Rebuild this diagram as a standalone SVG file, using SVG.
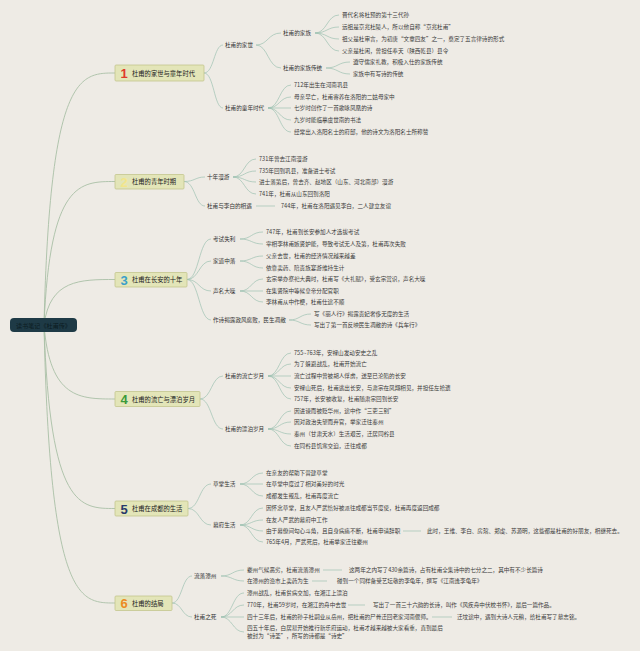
<svg xmlns="http://www.w3.org/2000/svg" width="640" height="651" viewBox="0 0 640 651">
<style>
.bg{fill:#eeebe5}
.c path{fill:none;stroke:#9dc2b2;stroke-width:0.7}
.c path.r{stroke:#a9bfa6;stroke-width:0.9}
text{font-family:"Noto Sans CJK SC","Noto Sans",sans-serif;dominant-baseline:central}
.t{font-size:5.6px;fill:#3a3a3a}
.s{font-size:5.6px;fill:#333}
.bx{fill:#e3e5b8;stroke:#c3c58e;stroke-width:0.8}
.bt{font-size:6.3px;fill:#222}
.n{font-family:"Liberation Sans",Arial,sans-serif;font-weight:bold;font-size:13px}
</style>
<rect class="bg" x="0" y="0" width="640" height="651"/>
<g id="connectors" class="c">
<path class="r" d="M44,325 C50,73 80,73 115,73"/>
<path class="r" d="M44,325 C50,181.5 80,181.5 115,181.5"/>
<path class="r" d="M44,325 C50,279.5 80,279.5 115,279.5"/>
<path class="r" d="M44,325 C50,399 80,399 115,399"/>
<path class="r" d="M44,325 C50,508.5 80,508.5 115,508.5"/>
<path class="r" d="M44,325 C50,603 80,603 115,603"/>
<path d="M204,73 C214,73 214,45 223,45"/>
<path d="M204,73 C214,73 214,108 223,108"/>
<path d="M256,45 C268,45 268,33 281,33"/>
<path d="M256,45 C268,45 268,68 281,68"/>
<path d="M315,33 C327,33 327,15 339,15"/>
<path d="M315,33 C327,33 327,27 339,27"/>
<path d="M315,33 C327,33 327,39 339,39"/>
<path d="M315,33 C327,33 327,51 339,51"/>
<path d="M326,68 C338,68 338,62 350,62"/>
<path d="M326,68 C338,68 338,74 350,74"/>
<path d="M268,108 C279.5,108 279.5,85 291,85"/>
<path d="M268,108 C279.5,108 279.5,97 291,97"/>
<path d="M268,108 L291,108"/>
<path d="M268,108 C279.5,108 279.5,120 291,120"/>
<path d="M268,108 C279.5,108 279.5,132 291,132"/>
<path d="M184,181.5 C195,181.5 195,177 205,177"/>
<path d="M184,181.5 C195,181.5 195,206 205,206"/>
<path d="M233,177 C244.5,177 244.5,159 256,159"/>
<path d="M233,177 C244.5,177 244.5,171 256,171"/>
<path d="M233,177 C244.5,177 244.5,182 256,182"/>
<path d="M233,177 C244.5,177 244.5,194 256,194"/>
<path d="M256,206 L275,206"/>
<path d="M187,279.5 C199,279.5 199,239 211,239"/>
<path d="M187,279.5 C199,279.5 199,261 211,261"/>
<path d="M187,279.5 C199,279.5 199,291 211,291"/>
<path d="M187,279.5 C199,279.5 199,320 211,320"/>
<path d="M240,239 C251.5,239 251.5,232 263,232"/>
<path d="M240,239 C251.5,239 251.5,244 263,244"/>
<path d="M240,261 C251.5,261 251.5,256 263,256"/>
<path d="M240,261 C251.5,261 251.5,268 263,268"/>
<path d="M240,291 C251.5,291 251.5,279 263,279"/>
<path d="M240,291 L263,291"/>
<path d="M240,291 C251.5,291 251.5,302 263,302"/>
<path d="M289,320 C300,320 300,314 311,314"/>
<path d="M289,320 C300,320 300,325 311,325"/>
<path d="M200,399 C211.5,399 211.5,376 223,376"/>
<path d="M200,399 C211.5,399 211.5,429 223,429"/>
<path d="M268,376 C279.5,376 279.5,353 291,353"/>
<path d="M268,376 C279.5,376 279.5,364 291,364"/>
<path d="M268,376 L291,376"/>
<path d="M268,376 C279.5,376 279.5,388 291,388"/>
<path d="M268,376 C279.5,376 279.5,399 291,399"/>
<path d="M268,429 C279.5,429 279.5,411 291,411"/>
<path d="M268,429 C279.5,429 279.5,422 291,422"/>
<path d="M268,429 C279.5,429 279.5,434 291,434"/>
<path d="M268,429 C279.5,429 279.5,446 291,446"/>
<path d="M188,508.5 C199.5,508.5 199.5,484 211,484"/>
<path d="M188,508.5 C199.5,508.5 199.5,525 211,525"/>
<path d="M240,484 C251.5,484 251.5,473 263,473"/>
<path d="M240,484 L263,484"/>
<path d="M240,484 C251.5,484 251.5,496 263,496"/>
<path d="M240,525 C251.5,525 251.5,508 263,508"/>
<path d="M240,525 C251.5,525 251.5,520 263,520"/>
<path d="M240,525 C251.5,525 251.5,531 263,531"/>
<path d="M240,525 C251.5,525 251.5,542 263,542"/>
<path d="M403,531 L421,531"/>
<path d="M172,603 C182,603 182,576 192,576"/>
<path d="M172,603 C182,603 182,617 192,617"/>
<path d="M221,576 C232.5,576 232.5,570 244,570"/>
<path d="M221,576 C232.5,576 232.5,581 244,581"/>
<path d="M221,617 C232.5,617 232.5,593 244,593"/>
<path d="M221,617 C232.5,617 232.5,605 244,605"/>
<path d="M221,617 L244,617"/>
<path d="M221,617 C232.5,617 232.5,632 244,632"/>
<path d="M323,570 L342,570"/>
<path d="M312,581 L327,581"/>
<path d="M348,605 L365,605"/>
<path d="M432,617 L452,617"/>
</g>
<g id="root">
<rect x="10" y="318" width="67" height="14" rx="4" fill="#1e3a46"/>
<text x="43.5" y="325" text-anchor="middle" font-size="6.1" fill="#0c1c22">读书笔记《杜甫传》</text>
</g>
<g id="b1">
<rect class="bx" x="115" y="65" width="89" height="16" rx="1"/>
<text class="n" x="124" y="73.5" text-anchor="middle" fill="#e0392b">1</text>
<text class="bt" x="132" y="73">杜甫的家世与童年时代</text>
</g>
<g id="b2">
<rect class="bx" x="115" y="174.5" width="69" height="14.5" rx="1"/>
<text class="n" x="124" y="182" text-anchor="middle" fill="#f2e58a">2</text>
<text class="bt" x="132" y="181.5">杜甫的青年时期</text>
</g>
<g id="b3">
<rect class="bx" x="115" y="272.5" width="72" height="14.5" rx="1"/>
<text class="n" x="124" y="280" text-anchor="middle" fill="#3a9fc9">3</text>
<text class="bt" x="132" y="279.5">杜甫在长安的十年</text>
</g>
<g id="b4">
<rect class="bx" x="115" y="391.5" width="85" height="15" rx="1"/>
<text class="n" x="124" y="399.5" text-anchor="middle" fill="#3b9a3a">4</text>
<text class="bt" x="132" y="399">杜甫的流亡与漂泊岁月</text>
</g>
<g id="b5">
<rect class="bx" x="115" y="501" width="73" height="15" rx="1"/>
<text class="n" x="124" y="509" text-anchor="middle" fill="#27396b">5</text>
<text class="bt" x="132" y="508.5">杜甫在成都的生活</text>
</g>
<g id="b6">
<rect class="bx" x="115" y="596" width="57" height="14.5" rx="1"/>
<text class="n" x="124" y="603.5" text-anchor="middle" fill="#ec8a22">6</text>
<text class="bt" x="132" y="603">杜甫的结局</text>
</g>
<g id="s1">
<text class="s" x="225" y="45">杜甫的家世</text>
<text class="s" x="283" y="33">杜甫的家族</text>
<text class="t" x="342" y="15">晋代名将杜预的第十三代孙</text>
<text class="t" x="342" y="27">远祖是京兆杜陵人，所以他自称“京兆杜甫”</text>
<text class="t" x="342" y="39">祖父是杜审言，为初唐“文章四友”之一，奠定了五言律诗的形式</text>
<text class="t" x="342" y="51">父亲是杜闲，曾担任奉天（陕西乾县）县令</text>
<text class="s" x="283" y="68">杜甫的家族传统</text>
<text class="t" x="353" y="62">遵守儒家礼教，积极入仕的家族传统</text>
<text class="t" x="353" y="74">家族中有写诗的传统</text>
<text class="s" x="225" y="108">杜甫的童年时代</text>
<text class="t" x="294" y="85">712年出生在河南巩县</text>
<text class="t" x="294" y="97">母亲早亡，杜甫寄养在洛阳的二姑母家中</text>
<text class="t" x="294" y="108">七岁时创作了一首歌咏凤凰的诗</text>
<text class="t" x="294" y="120">九岁时能临摹虞世南的书法</text>
<text class="t" x="294" y="132">经常出入洛阳名士的府邸，他的诗文为洛阳名士所称赞</text>
</g>
<g id="s2">
<text class="s" x="207" y="177">十年漫游</text>
<text class="t" x="259" y="159">731年曾去江南漫游</text>
<text class="t" x="259" y="171">735年回到巩县，准备进士考试</text>
<text class="t" x="259" y="182">进士落第后，曾去齐、赵地区（山东、河北南部）漫游</text>
<text class="t" x="259" y="194">741年，杜甫从山东回到洛阳</text>
<text class="s" x="207" y="206">杜甫与李白的相遇</text>
<text class="t" x="281" y="206">744年，杜甫在洛阳遇见李白，二人建立友谊</text>
</g>
<g id="s3">
<text class="s" x="213" y="239">考试失利</text>
<text class="t" x="266" y="232">747年，杜甫到长安参加人才选拔考试</text>
<text class="t" x="266" y="244">宰相李林甫嫉贤妒能，导致考试无人及第，杜甫再次失败</text>
<text class="s" x="213" y="261">家道中落</text>
<text class="t" x="266" y="256">父亲去世，杜甫的经济情况越来越差</text>
<text class="t" x="266" y="268">依靠卖药、陪贵族宴游维持生计</text>
<text class="s" x="213" y="291">声名大噪</text>
<text class="t" x="266" y="279">玄宗举办祭祀大典时，杜甫写《大礼赋》，受玄宗赏识，声名大噪</text>
<text class="t" x="266" y="291">在集贤院中等候皇帝分配官职</text>
<text class="t" x="266" y="302">李林甫从中作梗，杜甫仕途不顺</text>
<text class="s" x="213" y="320">作诗揭露政风腐败，民生凋敝</text>
<text class="t" x="314" y="314">写《丽人行》揭露贵妃奢侈无度的生活</text>
<text class="t" x="314" y="325">写出了第一首反映民生凋敝的诗《兵车行》</text>
</g>
<g id="s4">
<text class="s" x="225" y="376">杜甫的流亡岁月</text>
<text class="t" x="294" y="353">755~763年，安禄山发动安史之乱</text>
<text class="t" x="294" y="364">为了躲避战乱，杜甫开始流亡</text>
<text class="t" x="294" y="376">流亡过程中曾被胡人俘虏，送至已沦陷的长安</text>
<text class="t" x="294" y="388">安禄山死后，杜甫逃出长安，与肃宗在凤翔相见，并担任左拾遗</text>
<text class="t" x="294" y="399">757年，长安被收复，杜甫随肃宗回到长安</text>
<text class="s" x="225" y="429">杜甫的漂泊岁月</text>
<text class="t" x="294" y="411">因进谏而被贬华州，途中作“三吏三别”</text>
<text class="t" x="294" y="422">因对政治失望而弃官，举家迁往秦州</text>
<text class="t" x="294" y="434">秦州（甘肃天水）生活艰苦，迁居同谷县</text>
<text class="t" x="294" y="446">在同谷县饥寒交迫，迁往成都</text>
</g>
<g id="s5">
<text class="s" x="213" y="484">草堂生活</text>
<text class="t" x="266" y="473">在亲友的帮助下营建草堂</text>
<text class="t" x="266" y="484">在草堂中度过了相对美好的时光</text>
<text class="t" x="266" y="496">成都发生叛乱，杜甫再度流亡</text>
<text class="s" x="213" y="525">幕府生活</text>
<text class="t" x="266" y="508">因怀念草堂，且友人严武恰好被派往成都当节度使，杜甫再度返回成都</text>
<text class="t" x="266" y="520">在友人严武的幕府中工作</text>
<text class="t" x="266" y="531">由于幕僚间勾心斗角，且自身病痛不断，杜甫申请辞职</text>
<text class="t" x="427" y="531">此时，王维、李白、房琯、郑虔、苏源明，这些都是杜甫的好朋友，相继死去。</text>
<text class="t" x="266" y="542">765年4月，严武死后，杜甫举家迁往夔州</text>
</g>
<g id="s6">
<text class="s" x="194" y="576">流落潭州</text>
<text class="t" x="247" y="570">夔州气候恶劣，杜甫流落潭州</text>
<text class="t" x="349" y="570">这两年之内写了430余篇诗，占有杜甫全集诗中的七分之二，其中有不少长篇诗</text>
<text class="t" x="247" y="581">在潭州的渔市上卖药为生</text>
<text class="t" x="337" y="581">碰到一个同样备受艺坛敬的李龟年，撰写《江南逢李龟年》</text>
<text class="s" x="194" y="617">杜甫之死</text>
<text class="t" x="247" y="593">潭州战乱，杜甫贫病交加，在湘江上漂泊</text>
<text class="t" x="247" y="605">770年，杜甫59岁时，在湘江的舟中去世</text>
<text class="t" x="373" y="605">写出了一首三十六韵的长诗，叫作《风疾舟中伏枕书怀》，最后一篇作品。</text>
<text class="t" x="247" y="617">四十三年后，杜甫的孙子杜嗣业从岳州，把杜甫的尸骨迁回老家河南偃师。</text>
<text class="t" x="457" y="617">迁坟途中，遇到大诗人元稹，给杜甫写了墓志铭。</text>
<text class="t" x="247" y="628">四五十年后，白居易开始推行新乐府运动，杜甫才越来越被大家看重，直到最后</text>
<text class="t" x="247" y="636">被封为“诗圣”，所写的诗都是“诗史”</text>
</g>
</svg>
